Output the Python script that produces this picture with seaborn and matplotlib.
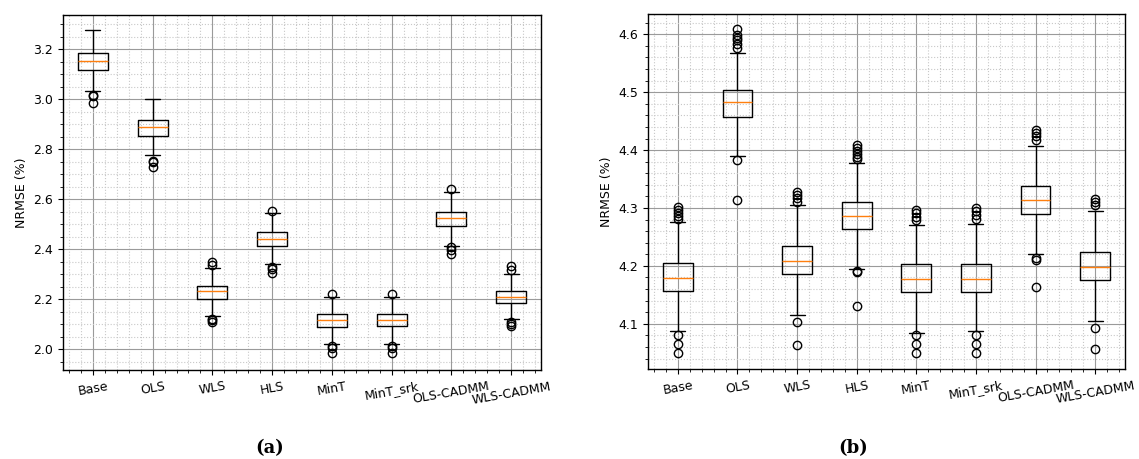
import matplotlib

matplotlib.use("Agg")
import matplotlib.pyplot as plt
import numpy as np
import pandas as pd
import seaborn as sns
from matplotlib.ticker import AutoMinorLocator, MultipleLocator

# -----------------------------------------------------------------------------
# Values (box summary per method)
# -----------------------------------------------------------------------------
methods = ["Base", "OLS", "WLS", "HLS", "MinT", "MinT_srk", "OLS-CADMM", "WLS-CADMM"]

# (a)
a_lo = [3.032, 2.776, 2.134, 2.340, 2.020, 2.020, 2.412, 2.120]
a_q1 = [3.118, 2.852, 2.202, 2.415, 2.090, 2.091, 2.493, 2.184]
a_med = [3.153, 2.888, 2.232, 2.442, 2.116, 2.117, 2.524, 2.210]
a_q3 = [3.184, 2.916, 2.254, 2.468, 2.141, 2.142, 2.548, 2.234]
a_hi = [3.276, 3.002, 2.324, 2.545, 2.210, 2.210, 2.628, 2.301]
a_fliers = [
    [3.018, 3.012, 2.984],
    [2.754, 2.750, 2.730],
    [2.337, 2.348, 2.122, 2.115, 2.108],
    [2.552, 2.330, 2.322, 2.306],
    [2.222, 2.011, 2.005, 1.985],
    [2.222, 2.012, 2.005, 1.984],
    [2.640, 2.408, 2.397, 2.381],
    [2.317, 2.333, 2.108, 2.100, 2.092],
]

# (b)
b_lo = [4.087, 4.390, 4.115, 4.195, 4.085, 4.087, 4.221, 4.105]
b_q1 = [4.156, 4.457, 4.186, 4.264, 4.155, 4.155, 4.289, 4.175]
b_med = [4.179, 4.483, 4.208, 4.286, 4.178, 4.178, 4.313, 4.198]
b_q3 = [4.205, 4.504, 4.234, 4.311, 4.203, 4.203, 4.338, 4.224]
b_hi = [4.275, 4.568, 4.305, 4.378, 4.271, 4.273, 4.407, 4.294]
b_fliers = [
    [4.281, 4.286, 4.291, 4.297, 4.302, 4.081, 4.066, 4.050],
    [4.577, 4.584, 4.590, 4.594, 4.598, 4.609, 4.383, 4.314],
    [4.311, 4.317, 4.323, 4.328, 4.103, 4.063],
    [4.384, 4.388, 4.393, 4.398, 4.403, 4.408, 4.192, 4.189, 4.130],
    [4.279, 4.285, 4.291, 4.297, 4.080, 4.066, 4.050],
    [4.281, 4.288, 4.294, 4.300, 4.081, 4.066, 4.050],
    [4.418, 4.424, 4.430, 4.435, 4.214, 4.210, 4.163],
    [4.305, 4.311, 4.316, 4.092, 4.057],
]


def summary_to_frame(lo, q1, med, q3, hi, fliers, m=40):
    """Rebuild a sample whose quartiles/whiskers/fliers equal the read values."""
    rows = []
    for i, name in enumerate(methods):
        vals = [lo[i]] + [q1[i]] * m + [med[i]] * m + [q3[i]] * m + [hi[i]] + fliers[i]
        rows += [(name, v) for v in vals]
    return pd.DataFrame(rows, columns=["method", "value"])


sns.set_theme(style="ticks")
plt.rcParams["font.family"] = ["DejaVu Sans"]
plt.rcParams.update({
    "axes.edgecolor": "black",
    "axes.linewidth": 1.0,
    "xtick.color": "black",
    "ytick.color": "black",
    "text.color": "black",
    "axes.labelcolor": "black",
})

fig = plt.figure(figsize=(11.39, 4.59), dpi=100)
W, H = 1139, 459
ax_a = fig.add_axes([63 / W, 1 - 370 / H, (541 - 63) / W, (370 - 15) / H])
ax_b = fig.add_axes([648 / W, 1 - 369 / H, (1125 - 648) / W, (369 - 14) / H])

panels = [
    (ax_a, summary_to_frame(a_lo, a_q1, a_med, a_q3, a_hi, a_fliers), (1.917, 3.337), 0.2),
    (ax_b, summary_to_frame(b_lo, b_q1, b_med, b_q3, b_hi, b_fliers), (4.022, 4.635), 0.1),
]

for ax, df, ylim, ystep in panels:
    sns.boxplot(
        data=df, x="method", y="value", order=methods, ax=ax,
        fill=False, color="black", width=0.5, linewidth=1.0, whis=1.5,
        flierprops=dict(marker="o", markerfacecolor="none", markeredgecolor="black",
                        markersize=6, markeredgewidth=1.0),
        medianprops=dict(color="#ff7f0e", linewidth=1.0),
    )
    ax.set_xlim(-0.5, len(methods) - 0.5)
    ax.set_ylim(*ylim)
    ax.yaxis.set_major_locator(MultipleLocator(ystep))
    ax.yaxis.set_minor_locator(AutoMinorLocator())
    ax.xaxis.set_minor_locator(AutoMinorLocator(5))
    ax.set_axisbelow(True)
    ax.grid(which="major", color="#9a9a9a", linestyle="-", linewidth=0.8)
    ax.grid(which="minor", color="#c8c8c8", linestyle=":", linewidth=0.8)
    ax.set_xlabel("")
    ax.set_ylabel("NRMSE (%)", fontsize=9)
    ax.tick_params(which="major", labelsize=9, length=3.5, width=0.8, direction="out")
    ax.tick_params(which="minor", length=2, width=0.6, direction="out")
    for lab in ax.get_xticklabels():
        lab.set_rotation(10)
        lab.set_ha("center")
    for s in ax.spines.values():
        s.set_visible(True)
        s.set_color("black")

fig.text(270 / W, 1 - 448 / H, "(a)", ha="center", va="center",
         fontsize=13, fontweight="bold", family="DejaVu Serif")
fig.text(853 / W, 1 - 448 / H, "(b)", ha="center", va="center",
         fontsize=13, fontweight="bold", family="DejaVu Serif")

fig.savefig("out.png", dpi=100)
plt.close(fig)
